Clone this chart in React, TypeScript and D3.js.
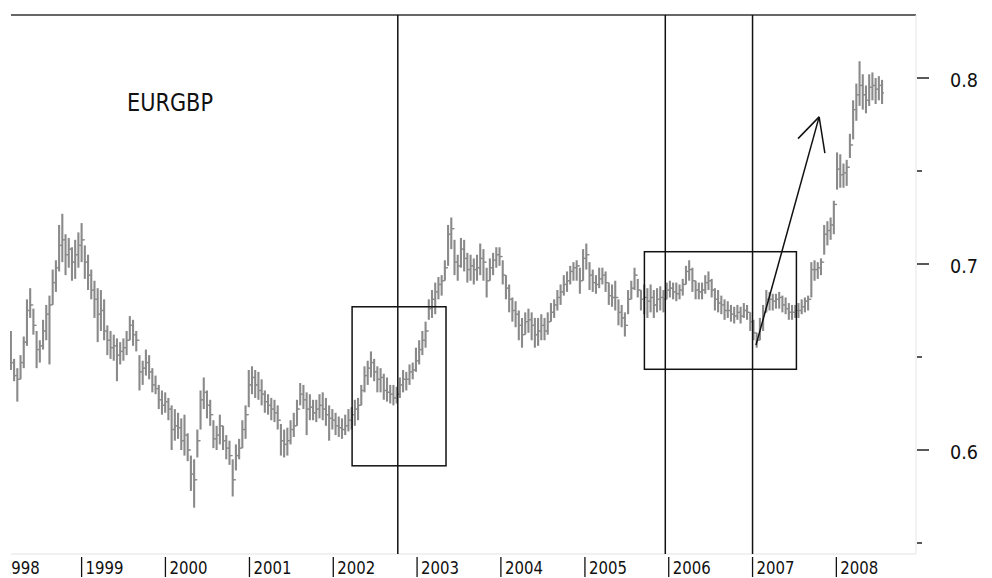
import React from "react";
import * as d3 from "d3";

const W = 992;
const H = 578;

// Biweekly bars starting on this date
const startDate = "1998-02-27";

const hi = [
  .664,.649,.644,.651,.661,.681,.687,.676,.664,.659,.670,.678,.683,.697,.702,.721,.727,.716,.714,.709,
  .713,.717,.722,.710,.705,.697,.691,.687,.686,.681,.667,.664,.662,.660,.658,.660,.664,.672,.670,.664,
  .651,.648,.654,.651,.644,.640,.635,.632,.631,.628,.624,.622,.620,.617,.619,.609,.597,.595,.611,.632,
  .639,.632,.627,.616,.613,.619,.613,.608,.605,.595,.603,.606,.616,.624,.643,.645,.643,.642,.638,.632,
  .630,.628,.627,.624,.614,.611,.612,.616,.620,.627,.636,.635,.631,.630,.627,.627,.630,.631,.628,.624,
  .622,.620,.618,.617,.619,.622,.623,.627,.628,.635,.645,.648,.653,.649,.645,.644,.641,.639,.635,.635,
  .634,.639,.643,.642,.646,.647,.655,.659,.664,.669,.681,.686,.690,.693,.694,.702,.721,.725,.713,.705,
  .714,.713,.706,.705,.703,.705,.711,.708,.698,.703,.706,.709,.709,.702,.694,.689,.682,.680,.675,.671,
  .674,.676,.674,.671,.671,.673,.671,.674,.679,.681,.686,.689,.694,.696,.699,.701,.702,.698,.708,.711,
  .701,.697,.694,.698,.698,.696,.690,.689,.691,.681,.678,.674,.686,.691,.698,.692,.686,.689,.687,.689,
  .686,.687,.688,.686,.690,.691,.690,.690,.689,.692,.699,.702,.698,.691,.690,.690,.694,.696,.692,.687,
  .686,.683,.681,.680,.678,.677,.678,.677,.679,.678,.674,.670,.663,.671,.678,.686,.685,.684,.684,.685,
  .683,.682,.679,.678,.678,.679,.681,.682,.683,.701,.702,.701,.703,.721,.723,.725,.734,.760,.759,.754,
  .756,.770,.788,.797,.809,.802,.796,.802,.803,.800,.801,.799,
];

const lo = [
  .643,.637,.626,.638,.644,.656,.671,.662,.644,.647,.654,.659,.646,.678,.685,.696,.701,.694,.698,.691,
  .692,.698,.701,.692,.686,.681,.671,.658,.664,.659,.651,.649,.648,.637,.646,.648,.651,.659,.656,.653,
  .632,.635,.640,.638,.631,.630,.622,.619,.620,.616,.600,.605,.606,.600,.597,.594,.578,.569,.596,.611,
  .622,.617,.613,.601,.600,.603,.600,.595,.592,.575,.589,.595,.601,.606,.623,.630,.628,.627,.624,.620,
  .619,.616,.615,.611,.597,.596,.597,.603,.607,.613,.624,.622,.608,.616,.616,.615,.617,.616,.613,.605,
  .611,.608,.607,.606,.608,.610,.611,.613,.616,.624,.631,.635,.639,.637,.631,.631,.627,.626,.625,.624,
  .625,.628,.631,.632,.635,.638,.642,.646,.651,.655,.670,.671,.673,.681,.683,.691,.699,.708,.694,.691,
  .698,.696,.690,.691,.689,.691,.694,.691,.682,.691,.694,.698,.699,.689,.681,.674,.669,.666,.659,.655,
  .662,.663,.659,.655,.656,.659,.659,.662,.669,.671,.675,.678,.683,.685,.689,.691,.691,.684,.691,.697,
  .686,.685,.684,.687,.689,.685,.678,.677,.675,.667,.666,.661,.673,.681,.686,.682,.675,.673,.671,.674,
  .671,.674,.675,.674,.681,.682,.681,.680,.681,.683,.689,.691,.685,.681,.681,.681,.684,.686,.682,.675,
  .674,.673,.670,.671,.669,.668,.670,.668,.671,.670,.664,.659,.655,.659,.664,.674,.675,.675,.676,.676,
  .674,.673,.670,.670,.671,.671,.673,.674,.675,.682,.691,.692,.694,.705,.710,.713,.716,.740,.741,.741,
  .742,.757,.767,.777,.785,.783,.781,.785,.788,.786,.788,.786,
];

const cl = [
  .647,.640,.638,.647,.658,.675,.678,.667,.654,.656,.664,.673,.678,.690,.698,.710,.713,.705,.708,.701,
  .705,.710,.713,.701,.694,.686,.681,.673,.675,.664,.659,.655,.656,.651,.653,.655,.659,.667,.662,.659,
  .642,.644,.647,.642,.635,.633,.627,.624,.626,.622,.611,.613,.612,.605,.608,.600,.587,.584,.605,.627,
  .631,.624,.619,.606,.608,.613,.605,.601,.597,.584,.597,.601,.611,.619,.635,.639,.635,.632,.630,.626,
  .624,.622,.620,.616,.605,.603,.605,.611,.613,.622,.630,.627,.622,.623,.620,.622,.624,.622,.619,.617,
  .616,.613,.612,.611,.613,.616,.619,.622,.624,.632,.640,.644,.647,.642,.638,.639,.632,.631,.630,.628,
  .630,.635,.638,.638,.642,.643,.648,.654,.659,.664,.676,.681,.685,.689,.691,.698,.716,.719,.701,.699,
  .708,.703,.697,.699,.697,.698,.703,.701,.691,.698,.702,.705,.704,.694,.687,.681,.675,.673,.667,.662,
  .669,.670,.667,.662,.664,.667,.664,.669,.674,.678,.682,.685,.689,.691,.696,.698,.699,.691,.703,.705,
  .694,.690,.689,.692,.694,.690,.683,.682,.682,.674,.671,.667,.681,.687,.694,.686,.681,.682,.680,.682,
  .678,.681,.682,.681,.686,.687,.685,.684,.686,.689,.696,.697,.691,.686,.685,.686,.690,.691,.686,.681,
  .679,.678,.675,.675,.673,.672,.674,.672,.675,.674,.669,.663,.659,.667,.674,.681,.681,.680,.681,.682,
  .678,.676,.674,.674,.675,.675,.677,.680,.681,.697,.697,.698,.701,.716,.718,.721,.732,.751,.748,.749,
  .752,.764,.783,.791,.796,.791,.788,.795,.796,.794,.796,.792,
];

const yearTicks = [1998, 1999, 2000, 2001, 2002, 2003, 2004, 2005, 2006, 2007, 2008];
const majorPrices = [0.6, 0.7, 0.8];
const minorPrices = [0.55, 0.65, 0.75];

const vLineDates = ["2002-10-09", "2005-12-17", "2007-01-01"];
const boxStart = ["2002-03-24", "2005-09-17"];
const boxEnd = ["2003-05-07", "2007-07-11"];
const boxLow = [0.5915, 0.6434];
const boxHigh = [0.677, 0.7066];
// arrow: shaft start, tip, two head arms
const arrowDates = ["2007-01-16", "2007-10-18", "2007-07-18", "2007-11-12"];
const arrowPrices = [0.6564, 0.7791, 0.7674, 0.7596];

const title = "EURGBP";

const FONT = "'DejaVu Sans', Verdana, sans-serif";

export default function App() {
  const parse = d3.utcParse("%Y-%m-%d");
  const x = d3
    .scaleUtc()
    .domain([new Date(Date.UTC(1998, 0, 1)), new Date(Date.UTC(2009, 0, 1))])
    .range([-2.2, 920.4]);
  const y = d3.scaleLinear().domain([0.6, 0.8]).range([450, 78]);

  const start = parse(startDate) as Date;
  const bars = hi.map((h, i) => ({
    date: d3.utcDay.offset(start, 14 * i),
    hi: h,
    lo: lo[i],
    op: i > 0 ? cl[i - 1] : cl[i],
    cl: cl[i],
  }));

  const plotLeft = 11;
  const plotRight = 916;
  const plotTop = 15;
  const plotBottom = 554;
  const gray = "#8a8a8a";

  const arrowPts = arrowDates.map((d, i) => [x(parse(d) as Date), y(arrowPrices[i])]);

  return (
    <svg
      width={W}
      height={H}
      style={{ position: "absolute", left: 0, top: 0, background: "#fff" }}
      fontFamily={FONT}
    >
      <defs>
        <clipPath id="clipLeft">
          <rect x={10} y={0} width={W - 10} height={H} />
        </clipPath>
      </defs>
      <rect x={0} y={0} width={W} height={H} fill="#fff" />
      <g clipPath="url(#clipLeft)">
        {/* frame */}
        <line x1={plotLeft} x2={plotRight} y1={plotTop} y2={plotTop} stroke="#333" strokeWidth={1.3} />
        <line x1={plotLeft} x2={plotRight} y1={plotBottom} y2={plotBottom} stroke="#e2e2e2" strokeWidth={1} />
        <line x1={plotRight} x2={plotRight} y1={plotTop} y2={plotBottom} stroke="#e6e6e6" strokeWidth={1} />

        {/* bars */}
        <g stroke={gray} strokeWidth={2.1}>
          {bars.map((b, i) => {
            const bx = x(b.date);
            return (
              <g key={i}>
                <line x1={bx} x2={bx} y1={y(b.hi)} y2={y(b.lo)} />
                <line x1={bx - 2} x2={bx} y1={y(b.op)} y2={y(b.op)} strokeWidth={1.3} />
                <line x1={bx} x2={bx + 2} y1={y(b.cl)} y2={y(b.cl)} strokeWidth={1.3} />
              </g>
            );
          })}
        </g>

        {/* annotations */}
        {vLineDates.map((d, i) => {
          const vx = x(parse(d) as Date);
          return <line key={i} x1={vx} x2={vx} y1={plotTop} y2={plotBottom} stroke="#111" strokeWidth={1.5} />;
        })}
        {boxStart.map((d, i) => {
          const x0 = x(parse(d) as Date);
          const x1 = x(parse(boxEnd[i]) as Date);
          const y0 = y(boxHigh[i]);
          const y1 = y(boxLow[i]);
          return (
            <rect key={i} x={x0} y={y0} width={x1 - x0} height={y1 - y0} fill="none" stroke="#111" strokeWidth={1.5} />
          );
        })}
        <g stroke="#111" strokeWidth={1.5} fill="none">
          <line x1={arrowPts[0][0]} y1={arrowPts[0][1]} x2={arrowPts[1][0]} y2={arrowPts[1][1]} />
          <line x1={arrowPts[2][0]} y1={arrowPts[2][1]} x2={arrowPts[1][0]} y2={arrowPts[1][1]} />
          <line x1={arrowPts[3][0]} y1={arrowPts[3][1]} x2={arrowPts[1][0]} y2={arrowPts[1][1]} />
        </g>

        {/* title */}
        <text x={127} y={111} fontSize={24} fill="#111" textLength={86} lengthAdjust="spacingAndGlyphs">
          {title}
        </text>

        {/* x axis year labels */}
        {yearTicks.map((yr) => {
          const tx = x(new Date(Date.UTC(yr, 0, 1)));
          return (
            <g key={yr}>
              <line x1={tx} x2={tx} y1={557} y2={577} stroke="#111" strokeWidth={1.3} />
              <text x={tx + 4} y={574} fontSize={18} fill="#111" textLength={38} lengthAdjust="spacingAndGlyphs">
                {String(yr)}
              </text>
            </g>
          );
        })}
      </g>

      {/* right axis */}
      {majorPrices.map((p) => (
        <g key={p}>
          <line x1={917} x2={929} y1={y(p)} y2={y(p)} stroke="#222" strokeWidth={1.5} />
          <text x={950} y={y(p) + 8.5} fontSize={19} fill="#111" textLength={28} lengthAdjust="spacingAndGlyphs">
            {d3.format(".1f")(p)}
          </text>
        </g>
      ))}
      {minorPrices.map((p) => (
        <line key={p} x1={917} x2={922} y1={y(p)} y2={y(p)} stroke="#222" strokeWidth={1.5} />
      ))}
    </svg>
  );
}
